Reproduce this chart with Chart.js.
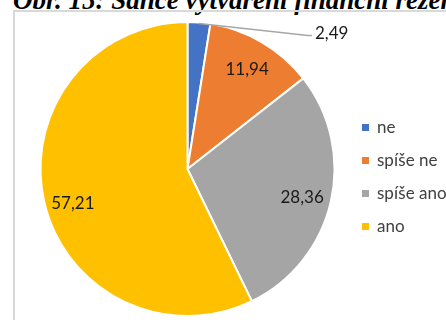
<!DOCTYPE html>
<html><head><meta charset="utf-8">
<script src="https://cdn.jsdelivr.net/npm/chart.js@4.4.1/dist/chart.umd.min.js"></script>
<style>
html,body{margin:0;padding:0;background:#fff;width:446px;height:320px;overflow:hidden;position:relative;}
#title{position:absolute;left:13px;top:-15px;line-height:27px;white-space:nowrap;font:bold italic 27px "Liberation Serif","DejaVu Serif",serif;color:#000;}
#frame{position:absolute;left:13px;top:10px;width:500px;height:400px;border-left:2px solid #d9d9d9;border-top:2px solid #d9d9d9;}
#c{position:absolute;left:0;top:0;}
</style></head><body>
<div id="title">Obr. 15: Šance vytváření finanční rezervy</div>
<div id="frame"></div>
<canvas id="c" width="446" height="320"></canvas>
<script>
const categories = ["ne", "spíše ne", "spíše ano", "ano"];
const values = [2.49, 11.94, 28.36, 57.21];
const valueLabels = ["2,49", "11,94", "28,36", "57,21"];
const colors = ["#4472C4", "#ED7D31", "#A5A5A5", "#FFC000"];

const labelPlugin = {
  id: 'labels',
  afterDatasetsDraw(chart) {
    const ctx = chart.ctx;
    const meta = chart.getDatasetMeta(0);
    ctx.save();
    ctx.font = '17px Lato, "Open Sans", sans-serif';
    ctx.fillStyle = '#1a1a1a';
    ctx.textBaseline = 'middle';
    meta.data.forEach((arc, i) => {
      const mid = (arc.startAngle + arc.endAngle) / 2;
      if (i === 0) {
        const r = arc.outerRadius - 1;
        const x0 = arc.x + Math.cos(mid) * r, y0 = arc.y + Math.sin(mid) * r;
        const x1 = x0 + 109, y1 = y0 + 12;
        ctx.strokeStyle = '#a6a6a6';
        ctx.lineWidth = 1.5;
        ctx.beginPath();
        ctx.moveTo(x0, y0); ctx.lineTo(x1, y1); ctx.lineTo(x1 + 4, y1);
        ctx.stroke();
        ctx.textAlign = 'left';
        ctx.fillText(valueLabels[i], x1 + 7, y1 - 2);
      } else {
        const r = arc.outerRadius * 0.8;
        const dy = i === 3 ? 8 : 2;
        ctx.textAlign = 'center';
        ctx.fillText(valueLabels[i], arc.x + Math.cos(mid) * r, arc.y + Math.sin(mid) * r + dy);
      }
    });
    // legend
    ctx.font = '17px Lato, "Open Sans", sans-serif';
    ctx.textAlign = 'left';
    categories.forEach((c, i) => {
      const y = 128 + i * 33;
      ctx.fillStyle = colors[i];
      ctx.fillRect(362, y - 4, 7, 7);
      ctx.fillStyle = '#404040';
      ctx.fillText(c, 377, y);
    });
    ctx.restore();
  }
};

new Chart(document.getElementById('c'), {
  type: 'pie',
  data: {
    labels: categories,
    datasets: [{ data: values, backgroundColor: colors, borderColor: '#ffffff', borderWidth: 2 }]
  },
  options: {
    responsive: false,
    animation: false,
    layout: { padding: { left: 39.5, right: 110.5, top: 21, bottom: 3 } },
    plugins: { legend: { display: false }, tooltip: { enabled: false } }
  },
  plugins: [labelPlugin]
});
</script>
</body></html>
